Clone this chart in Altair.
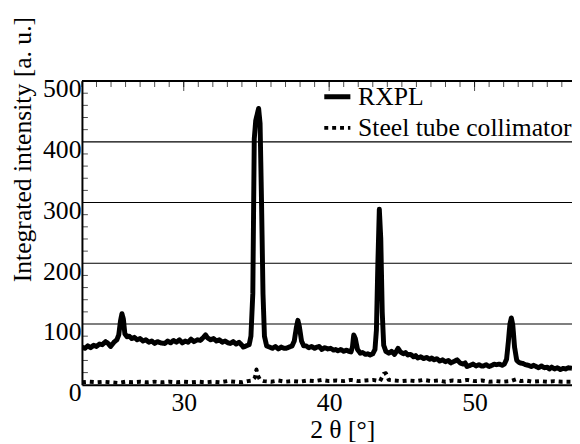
import altair as alt
import pandas as pd

# RXPL pattern (2theta in degrees, integrated intensity)
rxpl_x = [23.0, 23.2, 23.4, 23.6, 23.8, 24.0, 24.2, 24.4, 24.63, 24.8, 24.97, 25.2, 25.4, 25.53, 25.65, 25.75, 25.85, 25.95,
          26.1, 26.25, 26.43, 26.6, 26.8, 27.0, 27.2, 27.4, 27.6, 27.8, 28.0, 28.2, 28.4, 28.7, 28.9, 29.1, 29.3, 29.5,
          29.7, 29.9, 30.1, 30.3, 30.5, 30.7, 30.95, 31.15, 31.35, 31.5, 31.65, 31.85, 32.05, 32.25, 32.45, 32.65, 32.85,
          33.05, 33.2, 33.4, 33.6, 33.8, 34.0, 34.1, 34.3, 34.5, 34.62, 34.75, 34.85, 34.95, 35.05, 35.15, 35.25, 35.35,
          35.45, 35.55, 35.7, 35.9, 36.1, 36.3, 36.5, 36.7, 36.9, 37.05, 37.25, 37.45, 37.6, 37.75, 37.85, 37.95, 38.1,
          38.25, 38.41, 38.6, 38.8, 39.0, 39.15, 39.31, 39.5, 39.7, 39.9, 40.1, 40.3, 40.44, 40.6, 40.8, 41.0, 41.2, 41.35,
          41.5, 41.6, 41.69, 41.8, 41.95, 42.14, 42.3, 42.5, 42.65, 42.82, 43.0, 43.15, 43.25, 43.35, 43.45, 43.55, 43.65,
          43.75, 43.9, 44.1, 44.29, 44.5, 44.74, 44.9, 45.1, 45.25, 45.41, 45.6, 45.8, 45.95, 46.09, 46.3, 46.5, 46.7,
          46.9, 47.05, 47.22, 47.4, 47.6, 47.8, 48.0, 48.2, 48.36, 48.55, 48.8, 49.0, 49.2, 49.35, 49.48, 49.7, 49.9,
          50.1, 50.3, 50.45, 50.61, 50.8, 51.0, 51.2, 51.35, 51.52, 51.7, 51.9, 52.05, 52.2, 52.32, 52.43, 52.53, 52.63,
          52.75, 52.9, 53.1, 53.33, 53.5, 53.7, 53.9, 54.05, 54.23, 54.4, 54.6, 54.8, 55.0, 55.14, 55.3, 55.5, 55.7,
          55.9, 56.1, 56.26, 56.45, 56.7]
rxpl_y = [62, 60, 64, 61, 65, 63, 67, 66, 71, 68, 63, 70, 74, 82, 105, 117, 108, 84,
          79, 80, 76, 78, 74, 76, 72, 74, 70, 72, 68, 71, 69, 68, 72, 69, 73, 70,
          74, 69, 72, 70, 75, 71, 74, 73, 78, 82, 77, 74, 76, 72, 74, 70, 72,
          69, 68, 71, 67, 70, 65, 62, 64, 66, 80, 150, 405, 435, 445, 455, 430, 300,
          150, 80, 64, 62, 60, 63, 59, 62, 60, 60, 62, 64, 72, 95, 106, 96, 72,
          64, 64, 61, 63, 60, 62, 63, 58, 61, 59, 60, 57, 58, 56, 58, 55, 57, 55,
          54, 62, 82, 76, 58, 52, 53, 50, 51, 49, 51, 58, 90, 200, 289, 240, 120,
          65, 55, 52, 55, 50, 60, 54, 51, 53, 49, 50, 46, 48, 44, 46, 43, 45,
          42, 44, 41, 43, 39, 41, 38, 40, 36, 38, 41, 36, 34, 36, 30, 32, 34,
          31, 33, 31, 31, 33, 30, 32, 34, 33, 34, 32, 34, 42, 70, 100, 110, 98,
          62, 40, 36, 35, 33, 32, 30, 32, 30, 28, 31, 28, 29, 26, 29, 26, 28,
          25, 27, 26, 28, 27]

# Steel tube collimator pattern
steel_x = [23.0, 23.5, 24.0, 24.5, 25.0, 25.5, 26.0, 26.5, 27.0, 27.5, 28.0, 28.5, 29.0, 29.5, 30.0, 30.5, 31.0,
           31.5, 32.0, 32.5, 33.0, 33.5, 34.0, 34.4, 34.7, 34.9, 35.0, 35.1, 35.25, 35.5, 36.0, 36.5, 37.0, 37.5,
           38.0, 38.5, 39.0, 39.5, 40.0, 40.5, 41.0, 41.5, 42.0, 42.5, 43.0, 43.5, 43.75, 43.9, 44.1, 44.5, 45.0,
           45.5, 46.0, 46.5, 47.0, 47.5, 48.0, 48.5, 49.0, 49.5, 50.0, 50.5, 51.0, 51.5, 52.0, 52.5, 52.85, 53.2,
           53.5, 54.0, 54.5, 55.0, 55.5, 56.0, 56.7]
steel_y = [4, 5, 4, 5, 4, 3, 5, 4, 5, 4, 5, 4, 5, 4, 5, 4, 5,
           4, 5, 4, 6, 5, 4, 6, 7, 12, 25, 15, 8, 6, 5, 7, 5, 6,
           5, 7, 6, 8, 6, 7, 6, 8, 6, 7, 8, 6, 18, 19, 8, 7, 6,
           7, 6, 8, 6, 7, 5, 7, 6, 8, 6, 7, 5, 6, 5, 6, 9, 6,
           7, 5, 6, 5, 6, 5, 5]

series_names = ["RXPL", "Steel tube collimator"]
x_ticks = [30, 40, 50]
y_ticks = [0, 100, 200, 300, 400, 500]
y_grid = [100, 200, 300, 400]
y_minor = [v for v in range(20, 500, 20) if v % 100 != 0]
x_minor = list(range(23, 57))

FONT = "Liberation Serif"
FS = 26
X_DOM = [23.0, 56.7]
Y_DOM = [0, 500]

df = pd.concat([
    pd.DataFrame({"t": rxpl_x, "v": rxpl_y, "s": series_names[0]}),
    pd.DataFrame({"t": steel_x, "v": steel_y, "s": series_names[1]}),
])

xs = alt.Scale(domain=X_DOM, nice=False, zero=False)
ys = alt.Scale(domain=Y_DOM, nice=False)

ax_x = alt.Axis(
    values=x_ticks, format="d", grid=False, tickSize=0, labelPadding=5,
    domainColor="black", domainWidth=2,
    labelFont=FONT, labelFontSize=FS, labelColor="black",
    title="2 θ [°]", titleFont=FONT, titleFontSize=FS, titleFontWeight="normal",
    titleColor="black", titleX=264, titleY=45, titleBaseline="middle")
ax_y = alt.Axis(
    values=y_ticks, grid=False, tickSize=0, labelPadding=1,
    labelBaseline="top", labelOffset=-5,
    domainColor="black", domainWidth=2,
    labelFont=FONT, labelFontSize=FS, labelColor="black",
    title="Integrated intensity [a. u.]", titleFont=FONT, titleFontSize=FS,
    titleFontWeight="normal", titleColor="black",
    titleX=-60, titleY=69, titleAlign="center", titleBaseline="middle")

lines = alt.Chart(df).mark_line(color="black", strokeCap="butt",
                                strokeJoin="round", clip=True).encode(
    x=alt.X("t:Q", scale=xs, axis=ax_x),
    y=alt.Y("v:Q", scale=ys, axis=ax_y),
    strokeDash=alt.StrokeDash("s:N", scale=alt.Scale(domain=series_names, range=[[1, 0], [4, 4]]),
                              legend=alt.Legend(
                                  orient="none", legendX=243, legendY=0, title=None,
                                  symbolType="stroke", symbolSize=700, symbolStrokeWidth=5,
                                  symbolStrokeColor="black", labelFont=FONT, labelFontSize=FS,
                                  labelColor="black", labelOffset=5, rowPadding=3, labelLimit=0)),
    strokeWidth=alt.StrokeWidth("s:N", scale=alt.Scale(domain=series_names, range=[5, 4]), legend=None),
)

grid = alt.Chart(pd.DataFrame({"v": y_grid})).mark_rule(color="black", strokeWidth=1.2).encode(
    y=alt.Y("v:Q", scale=ys, axis=ax_y))

top = alt.Chart(pd.DataFrame({"v": [500]})).mark_rule(color="black", strokeWidth=2).encode(
    y=alt.Y("v:Q", scale=ys, axis=ax_y))

yminor = alt.Chart(pd.DataFrame({"v": y_minor})).mark_tick(
    orient="horizontal", size=6, thickness=1, color="black").encode(
    y=alt.Y("v:Q", scale=ys, axis=ax_y), x=alt.value(3))

xminor = alt.Chart(pd.DataFrame({"t": x_minor})).mark_tick(
    orient="vertical", size=6, thickness=1, color="black").encode(
    x=alt.X("t:Q", scale=xs, axis=ax_x), y=alt.value(3))

xmajor = alt.Chart(pd.DataFrame({"t": x_ticks})).mark_tick(
    orient="vertical", size=10, thickness=1, color="black").encode(
    x=alt.X("t:Q", scale=xs, axis=ax_x), y=alt.value(5))

chart = alt.layer(lines, grid, top, yminor, xminor, xmajor).properties(
    width=497, height=308,
    autosize=alt.AutoSizeParams(type="none"),
    padding={"left": 75, "top": 71, "right": 0, "bottom": 57},
).configure_view(stroke=None).configure(background="white").configure_axis(
    labelFont=FONT, titleFont=FONT)

chart.save("out.html", embed_options={"renderer": "svg", "actions": False})
